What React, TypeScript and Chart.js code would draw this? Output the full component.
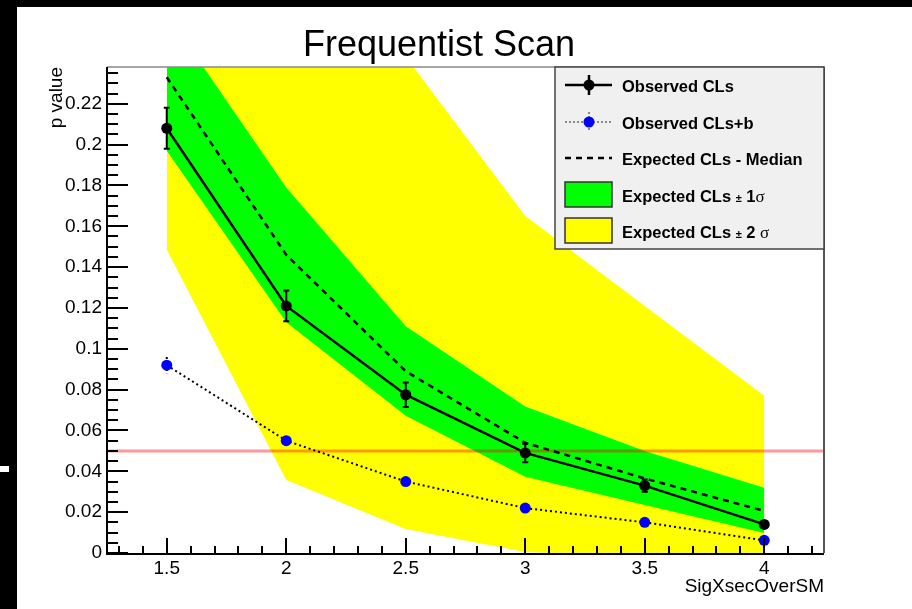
import React, { useEffect, useRef } from "react";
import { Chart, registerables } from "chart.js";
Chart.register(...registerables);

// ---- data ----
const xValues = [1.5, 2, 2.5, 3, 3.5, 4];
const observedCLs = [0.208, 0.121, 0.0775, 0.049, 0.033, 0.014];
const observedCLsErr = [0.01, 0.0075, 0.006, 0.0045, 0.003, 0.0015];
const observedCLsb = [0.092, 0.055, 0.035, 0.022, 0.015, 0.0062];
const observedCLsbErr = [0.004, 0.002, 0.0015, 0.001, 0.001, 0.0005];
const expectedMedian = [0.233, 0.146, 0.089, 0.054, 0.0365, 0.0206];
const expected1sUp = [0.264, 0.179, 0.111, 0.0717, 0.05, 0.032];
const expected1sDown = [0.197, 0.113, 0.0672, 0.0374, 0.0235, 0.0098];
const expected2sUp = [0.5, 0.36, 0.243, 0.165, 0.121, 0.077];
const expected2sDown = [0.1485, 0.0358, 0.0118, 0.0005, -0.002, -0.004];
const thresholdValue = 0.05;
const thresholdRange = [1.25, 4.25];

const xRange = [1.25, 4.25];
const yRange = [0, 0.238];
const xTickLabels = [1.5, 2, 2.5, 3, 3.5, 4];
const yTickLabels = [0, 0.02, 0.04, 0.06, 0.08, 0.1, 0.12, 0.14, 0.16, 0.18, 0.2, 0.22];
const xMinorStep = 0.1;
const yMinorStep = 0.005;

const titleText = "Frequentist Scan";
const xTitle = "SigXsecOverSM";
const yTitle = "p value";

const SANS = "'Liberation Sans', Arial, Helvetica, sans-serif";
const SERIF = "'Liberation Serif', 'DejaVu Serif', serif";

const pts = (ys: number[]) => xValues.map((x, i) => ({ x, y: ys[i] }));

function drawErrors(ctx: CanvasRenderingContext2D, xs: any, ys: any, vals: number[], errs: number[], dotted: boolean) {
  ctx.save();
  ctx.strokeStyle = "#000";
  ctx.lineWidth = 2;
  if (dotted) ctx.setLineDash([2, 2]);
  xValues.forEach((xv, i) => {
    const px = xs.getPixelForValue(xv);
    const top = ys.getPixelForValue(vals[i] + errs[i]);
    const bot = ys.getPixelForValue(vals[i] - errs[i]);
    ctx.beginPath();
    ctx.moveTo(px, top);
    ctx.lineTo(px, bot);
    ctx.stroke();
    if (!dotted) {
      ctx.beginPath();
      ctx.moveTo(px - 3, top);
      ctx.lineTo(px + 3, top);
      ctx.moveTo(px - 3, bot);
      ctx.lineTo(px + 3, bot);
      ctx.stroke();
    }
  });
  ctx.restore();
}

function drawLegend(ctx: CanvasRenderingContext2D) {
  const bx = 555, by = 67, bw = 824 - 555, bh = 249 - 67;
  ctx.save();
  ctx.fillStyle = "#f0f0f0";
  ctx.fillRect(bx, by, bw, bh);
  ctx.strokeStyle = "#444";
  ctx.lineWidth = 1.5;
  ctx.strokeRect(bx, by, bw, bh);

  const s0 = 565, s1 = 612, cx = 589, tx = 622;
  const cy = [85, 122, 158, 194.5, 230.5];

  // row 1: observed CLs
  ctx.strokeStyle = "#000";
  ctx.lineWidth = 2.5;
  ctx.beginPath();
  ctx.moveTo(s0, cy[0]); ctx.lineTo(s1, cy[0]);
  ctx.moveTo(cx, cy[0] - 10); ctx.lineTo(cx, cy[0] + 10);
  ctx.stroke();
  ctx.fillStyle = "#000";
  ctx.beginPath(); ctx.arc(cx, cy[0], 5.5, 0, Math.PI * 2); ctx.fill();

  // row 2: observed CLs+b
  ctx.save();
  ctx.strokeStyle = "#666";
  ctx.lineWidth = 1.5;
  ctx.setLineDash([2, 2]);
  ctx.beginPath();
  ctx.moveTo(s0, cy[1]); ctx.lineTo(s1, cy[1]);
  ctx.moveTo(cx, cy[1] - 10); ctx.lineTo(cx, cy[1] + 10);
  ctx.stroke();
  ctx.restore();
  ctx.fillStyle = "#0000ff";
  ctx.beginPath(); ctx.arc(cx, cy[1], 5.5, 0, Math.PI * 2); ctx.fill();

  // row 3: median
  ctx.save();
  ctx.strokeStyle = "#000";
  ctx.lineWidth = 2.5;
  ctx.setLineDash([6, 5]);
  ctx.beginPath();
  ctx.moveTo(s0, cy[2]); ctx.lineTo(s1, cy[2]);
  ctx.stroke();
  ctx.restore();

  // rows 4,5: boxes
  ctx.lineWidth = 1.5;
  ctx.strokeStyle = "#333";
  ctx.fillStyle = "#00ff00";
  ctx.fillRect(s0, cy[3] - 12.5, s1 - s0, 25);
  ctx.strokeRect(s0, cy[3] - 12.5, s1 - s0, 25);
  ctx.fillStyle = "#ffff00";
  ctx.fillRect(s0, cy[4] - 12.5, s1 - s0, 25);
  ctx.strokeRect(s0, cy[4] - 12.5, s1 - s0, 25);

  // texts
  ctx.fillStyle = "#000";
  ctx.textAlign = "left";
  ctx.textBaseline = "alphabetic";
  const bold = `bold 16.5px ${SANS}`;
  const labels = ["Observed CLs", "Observed CLs+b", "Expected CLs - Median"];
  labels.forEach((t, i) => {
    ctx.font = bold;
    ctx.fillText(t, tx, cy[i] + 7);
  });
  const sigmaRow = (y: number, n: string, gap: string) => {
    let x = tx;
    ctx.font = bold;
    const a = "Expected CLs ";
    ctx.fillText(a, x, y); x += ctx.measureText(a).width;
    ctx.font = `bold 11px ${SANS}`;
    ctx.fillText("\u00b1", x, y); x += ctx.measureText("\u00b1").width;
    ctx.font = bold;
    const b = " " + n + gap;
    ctx.fillText(b, x, y); x += ctx.measureText(b).width;
    ctx.font = `17px ${SERIF}`;
    ctx.fillText("\u03c3", x, y);
  };
  sigmaRow(cy[3] + 7, "1", "");
  sigmaRow(cy[4] + 7, "2", " ");
  ctx.restore();
}

const rootPlugin = {
  id: "rootStyle",
  beforeDraw(chart: any) {
    const ctx = chart.ctx as CanvasRenderingContext2D;
    ctx.save();
    ctx.fillStyle = "#fff";
    ctx.fillRect(0, 0, chart.width, chart.height);
    ctx.fillStyle = "#000";
    ctx.fillRect(0, 0, chart.width, 7);
    ctx.fillRect(0, 0, 17, chart.height);
    ctx.fillStyle = "#fff";
    ctx.fillRect(0, 466, 9, 6);
    ctx.restore();
  },
  afterDatasetDraw(chart: any, args: any) {
    if (args.index !== 2) return;
    const ctx = chart.ctx as CanvasRenderingContext2D;
    const xs = chart.scales.x, ys = chart.scales.y;
    drawErrors(ctx, xs, ys, observedCLs, observedCLsErr, false);
    drawErrors(ctx, xs, ys, observedCLsb, observedCLsbErr, true);
  },
  afterDraw(chart: any) {
    const ctx = chart.ctx as CanvasRenderingContext2D;
    const xs = chart.scales.x, ys = chart.scales.y;
    const { left, right, top, bottom } = chart.chartArea;
    ctx.save();
    // ticks
    ctx.strokeStyle = "#000";
    ctx.lineWidth = 2;
    ctx.beginPath();
    for (let v = yRange[0]; v <= yRange[1] + 1e-9; v += yMinorStep) {
      const py = Math.round(ys.getPixelForValue(v));
      const isMajor = Math.abs(v / 0.02 - Math.round(v / 0.02)) < 1e-6;
      ctx.moveTo(left, py);
      ctx.lineTo(left + (isMajor ? 21 : 11), py);
    }
    for (let v = 1.3; v <= xRange[1] + 1e-9; v += xMinorStep) {
      const px = Math.round(xs.getPixelForValue(v));
      const isMajor = Math.abs(v / 0.5 - Math.round(v / 0.5)) < 1e-6;
      ctx.moveTo(px, bottom);
      ctx.lineTo(px, bottom - (isMajor ? 15 : 7));
    }
    ctx.stroke();
    // frame
    ctx.strokeStyle = "#888";
    ctx.lineWidth = 1.5;
    ctx.beginPath();
    ctx.moveTo(left, top); ctx.lineTo(right, top);
    ctx.stroke();
    ctx.strokeStyle = "#555";
    ctx.lineWidth = 2;
    ctx.beginPath();
    ctx.moveTo(right, top); ctx.lineTo(right, bottom);
    ctx.stroke();
    ctx.strokeStyle = "#000";
    ctx.beginPath();
    ctx.moveTo(left, top); ctx.lineTo(left, bottom + 1); ctx.lineTo(right, bottom + 1);
    ctx.stroke();
    // title
    ctx.fillStyle = "#000";
    ctx.font = `36px ${SANS}`;
    ctx.textAlign = "center";
    ctx.textBaseline = "alphabetic";
    ctx.fillText(titleText, 439, 56);
    ctx.restore();
    drawLegend(ctx);
  },
};

export default function App() {
  const ref = useRef<HTMLCanvasElement>(null);
  useEffect(() => {
    if (!ref.current) return;
    const tickFont = { family: SANS, size: 19 };
    const chart = new Chart(ref.current, {
      type: "line",
      data: {
        datasets: [
          {
            label: "Observed CLs",
            data: pts(observedCLs),
            borderColor: "#000",
            borderWidth: 2.5,
            pointRadius: 5.5,
            pointBackgroundColor: "#000",
            pointBorderColor: "#000",
            pointBorderWidth: 0,
            fill: false,
          },
          {
            label: "Observed CLs+b",
            data: pts(observedCLsb),
            borderColor: "#000",
            borderWidth: 2,
            borderDash: [2, 3],
            pointRadius: 5.5,
            pointBackgroundColor: "#0000ff",
            pointBorderColor: "#0000ff",
            pointBorderWidth: 0,
            fill: false,
          },
          {
            label: "Expected CLs - Median",
            data: pts(expectedMedian),
            borderColor: "#000",
            borderWidth: 2.5,
            borderDash: [6, 5],
            pointRadius: 0,
            fill: false,
          },
          {
            label: "threshold",
            data: thresholdRange.map((x) => ({ x, y: thresholdValue })),
            borderColor: "rgba(255,0,0,0.4)",
            borderWidth: 3,
            pointRadius: 0,
            fill: false,
          },
          {
            label: "1s up",
            data: pts(expected1sUp),
            borderColor: "transparent",
            borderWidth: 0,
            pointRadius: 0,
            backgroundColor: "#00ff00",
            fill: "+1",
          },
          {
            label: "1s down",
            data: pts(expected1sDown),
            borderColor: "transparent",
            borderWidth: 0,
            pointRadius: 0,
            fill: false,
          },
          {
            label: "2s up",
            data: pts(expected2sUp),
            borderColor: "transparent",
            borderWidth: 0,
            pointRadius: 0,
            backgroundColor: "#ffff00",
            fill: "+1",
          },
          {
            label: "2s down",
            data: pts(expected2sDown),
            borderColor: "transparent",
            borderWidth: 0,
            pointRadius: 0,
            fill: false,
          },
        ],
      },
      options: {
        animation: false,
        responsive: false,
        maintainAspectRatio: false,
        layout: { padding: { left: 0, top: 67, right: 88, bottom: 0 } },
        plugins: {
          legend: { display: false },
          tooltip: { enabled: false },
          title: { display: false },
        },
        elements: { line: { tension: 0 } },
        scales: {
          x: {
            type: "linear",
            min: xRange[0],
            max: xRange[1],
            grid: { display: false, drawTicks: false },
            border: { display: false },
            ticks: {
              padding: 4,
              font: tickFont,
              color: "#000",
              maxRotation: 0,
              callback: (v: any) => String(v),
            },
            afterBuildTicks: (s: any) => {
              s.ticks = xTickLabels.map((v) => ({ value: v }));
            },
            afterFit: (s: any) => {
              s.height = 56;
            },
            title: {
              display: true,
              text: xTitle,
              align: "end",
              color: "#000",
              font: { family: SANS, size: 19 },
              padding: { top: 0, bottom: 11 },
            },
          },
          y: {
            type: "linear",
            min: yRange[0],
            max: yRange[1],
            grid: { display: false, drawTicks: false },
            border: { display: false },
            ticks: {
              padding: 5,
              font: tickFont,
              color: "#000",
              callback: (v: any) => String(+Number(v).toFixed(3)),
            },
            afterBuildTicks: (s: any) => {
              s.ticks = yTickLabels.map((v) => ({ value: v }));
            },
            afterFit: (s: any) => {
              s.width = 107;
            },
            title: {
              display: true,
              text: yTitle,
              align: "end",
              color: "#000",
              font: { family: SANS, size: 19 },
              padding: { top: 45, bottom: 0 },
            },
          },
        },
      } as any,
      plugins: [rootPlugin],
    });
    return () => chart.destroy();
  }, []);
  return (
    <div style={{ position: "fixed", left: 0, top: 0, width: 912, height: 609 }}>
      <canvas ref={ref} width={912} height={609} style={{ width: 912, height: 609, display: "block" }} />
    </div>
  );
}
